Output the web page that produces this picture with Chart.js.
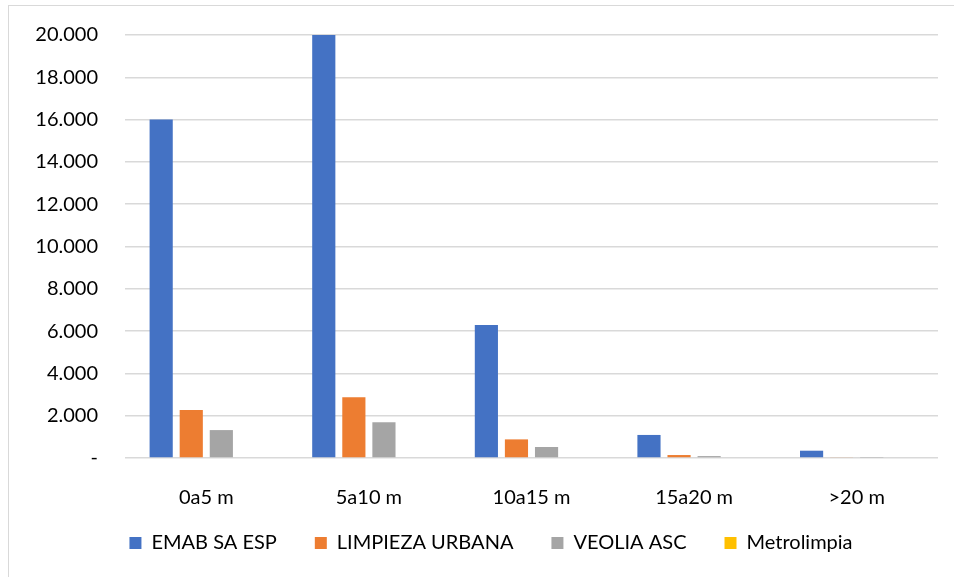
<!DOCTYPE html>
<html>
<head>
<meta charset="utf-8">
<script src="https://cdn.jsdelivr.net/npm/chart.js@4.4.1/dist/chart.umd.min.js"></script>
<style>
    html, body { margin: 0; padding: 0; background: #fff; }
    #wrap { position: relative; width: 954px; height: 577px; }
    #frame {
        position: absolute; left: 8px; top: 5px; width: 960px; height: 600px;
        border: 1.5px solid #d9d9d9; box-sizing: border-box; pointer-events: none;
    }
    canvas { position: absolute; left: 0; top: 0; }
</style>
</head>
<body>
<div id="wrap">
    <div id="frame"></div>
    <canvas id="chart" width="954" height="577"></canvas>
</div>
<script>
'use strict';

// categories (x axis)
const categories = ['0a5 m', '5a10 m', '10a15 m', '15a20 m', '>20 m'];

// series values
const emabValues = [16000, 20000, 6290, 1090, 345];
const limpiezaValues = [2270, 2870, 880, 140, 40];
const veoliaValues = [1320, 1690, 520, 90, 20];
const metrolimpiaValues = [0, 0, 0, 0, 0];

// y axis ticks
const yMax = 20000;
const yStep = 2000;

const seriesNames = ['EMAB SA ESP', 'LIMPIEZA URBANA', 'VEOLIA ASC', 'Metrolimpia'];
const seriesColors = ['#4472C4', '#ED7D31', '#A5A5A5', '#FFC000'];

const fontFamily = 'Lato, "Noto Sans", sans-serif';
const fontSize = 20;

function formatTick(v) {
    if (v === 0) return '-';
    return v.toLocaleString('en-US').replace(/,/g, '.');
}

// nudge the legend up and a little to the right
const legendShift = {
    id: 'legendShift',
    afterLayout(chart) {
        chart.legend.top -= 9;
        chart.legend.bottom -= 9;
        chart.legend.left += 22;
        chart.legend.right += 22;
    }
};

let chartData = {
    labels: categories,
    datasets: [emabValues, limpiezaValues, veoliaValues, metrolimpiaValues].map((values, i) => ({
        label: seriesNames[i],
        data: values,
        backgroundColor: seriesColors[i],
        borderWidth: 0,
        barPercentage: 0.77,
        categoryPercentage: 0.74
    }))
};

let chart = new Chart(document.getElementById('chart'), {
    type: 'bar',
    data: chartData,
    plugins: [legendShift],
    options: {
        responsive: false,
        animation: false,
        layout: {
            padding: { left: 0, right: 16, top: 35, bottom: 5 }
        },
        plugins: {
            legend: {
                position: 'bottom',
                labels: {
                    boxWidth: 12,
                    boxHeight: 12,
                    padding: 38,
                    color: '#000',
                    font: { family: fontFamily, size: fontSize }
                }
            },
            tooltip: { enabled: false }
        },
        scales: {
            x: {
                afterFit: (scale) => { scale.height = 46; },
                grid: { display: false },
                border: { display: false },
                ticks: {
                    color: '#000',
                    padding: 20,
                    font: { family: fontFamily, size: fontSize }
                }
            },
            y: {
                min: 0,
                max: yMax,
                afterFit: (scale) => { scale.width = 125; scale.paddingTop = 0; },
                grid: { color: '#d9d9d9', lineWidth: 1.5, drawTicks: false },
                border: { display: false },
                ticks: {
                    stepSize: yStep,
                    color: '#000',
                    padding: 27,
                    font: { family: fontFamily, size: fontSize },
                    callback: (v) => formatTick(v)
                }
            }
        }
    }
});
</script>
</body>
</html>
